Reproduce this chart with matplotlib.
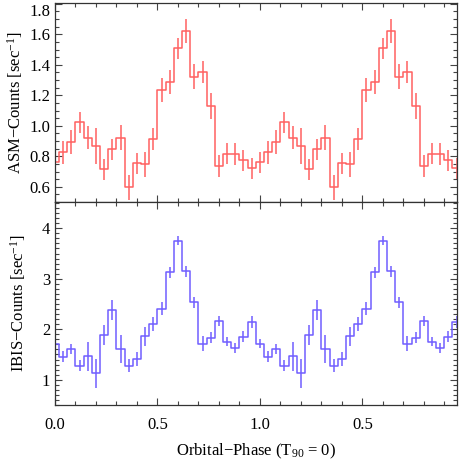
"""
Folded ASM / IBIS light curves, two orbital cycles shown.
"""

import numpy as np
import matplotlib
matplotlib.use("Agg")
import matplotlib.pyplot as plt
from matplotlib.ticker import MultipleLocator, FixedLocator, FixedFormatter

plt.rcParams.update({
    "font.family": "Liberation Serif",
    "font.size": 12,
    "mathtext.fontset": "custom",
    "mathtext.rm": "Liberation Serif",
    "mathtext.it": "Liberation Serif:italic",
})

# ---------------------------------------------------------------------------
# Data (one orbital cycle, 25 phase bins of 0.04)
# ---------------------------------------------------------------------------

asm_rate = [0.76, 0.825, 0.895, 1.022, 0.923, 0.867, 0.714, 0.845, 0.923, 0.596,
            0.753, 0.746, 0.913, 1.234, 1.286, 1.507, 1.621, 1.323, 1.354, 1.129,
            0.736, 0.816, 0.812, 0.773, 0.720]
asm_err = [0.07, 0.077, 0.079, 0.071, 0.077, 0.117, 0.068, 0.071, 0.081, 0.080,
           0.068, 0.082, 0.071, 0.077, 0.079, 0.071, 0.080, 0.079, 0.071, 0.084,
           0.073, 0.068, 0.072, 0.068, 0.069]

ibis_rate = [1.711, 1.456, 1.607, 1.279, 1.462, 1.128, 1.882, 2.374, 1.607, 1.279,
             1.410, 1.862, 2.105, 2.407, 3.128, 3.757, 3.148, 2.531, 1.711, 1.836,
             2.170, 1.757, 1.620, 1.849, 2.138]
ibis_err = [0.09, 0.105, 0.092, 0.115, 0.289, 0.292, 0.203, 0.197, 0.272, 0.131,
            0.141, 0.187, 0.131, 0.125, 0.105, 0.098, 0.108, 0.115, 0.151, 0.115,
            0.102, 0.098, 0.098, 0.108, 0.115]

bin_width = 0.04
n_cycles = 2

phase_ticks = [0.0, 0.5, 1.0, 1.5]
phase_labels = ["0.0", "0.5", "1.0", "0.5"]
asm_ticks = [0.6, 0.8, 1.0, 1.2, 1.4, 1.6, 1.8]
asm_labels = ["0.6", "0.8", "1.0", "1.2", "1.4", "1.6", "1.8"]

RED = (1.0, 0.38, 0.38)
BLUE = (0.44, 0.37, 1.0)


def two_cycles(vals):
    return np.concatenate([np.asarray(vals)] * n_cycles)


def style_axis(ax):
    ax.tick_params(which="both", direction="in", top=True, right=True,
                   colors="#444444", width=0.8)
    ax.tick_params(which="major", length=5)
    ax.tick_params(which="minor", length=2.8)
    ax.tick_params(axis="both", labelcolor="black")
    for s in ax.spines.values():
        s.set_color("#333333")
        s.set_linewidth(0.9)
    ax.set_xlim(0, 1.962)
    ax.xaxis.set_major_locator(FixedLocator(phase_ticks))
    ax.xaxis.set_minor_locator(MultipleLocator(0.1))


def plot_curve(ax, rate, err, color):
    phase = np.arange(len(rate) * n_cycles) * bin_width
    y = two_cycles(rate)
    e = two_cycles(err)
    ax.step(phase, y, where="mid", color=color, lw=1.1)
    ax.errorbar(phase, y, yerr=e, fmt="none", ecolor=color, elinewidth=1.1, capsize=0)


fig = plt.figure(figsize=(4.61, 4.61), dpi=100)
ax1 = fig.add_axes([0.1193, 0.5618, 0.872, 0.4317])
ax2 = fig.add_axes([0.1193, 0.1215, 0.872, 0.4403])

# --- top: ASM ---
plot_curve(ax1, asm_rate, asm_err, RED)
style_axis(ax1)
ax1.set_ylim(0.5, 1.805)
ax1.yaxis.set_major_locator(FixedLocator(asm_ticks))
ax1.yaxis.set_major_formatter(FixedFormatter(asm_labels))
ax1.yaxis.set_minor_locator(MultipleLocator(0.05))
ax1.tick_params(axis="x", labelbottom=False)
ax1.set_ylabel("ASM\u2212Counts [sec$^{-1}$]", labelpad=3)

# --- bottom: IBIS ---
plot_curve(ax2, ibis_rate, ibis_err, BLUE)
style_axis(ax2)
ax2.set_ylim(0.5, 4.52)
ax2.yaxis.set_major_locator(MultipleLocator(1))
ax2.yaxis.set_minor_locator(MultipleLocator(0.1))
ax2.xaxis.set_major_formatter(FixedFormatter(phase_labels))
ax2.tick_params(axis="x", pad=9)
ax2.set_ylabel("IBIS\u2212Counts [sec$^{-1}$]", labelpad=10)
ax2.set_xlabel("Orbital\u2212Phase (T$_{90}$ = 0)", labelpad=6)

fig.align_ylabels([ax1, ax2])

# the top label sits at the figure edge, keep it inside
fig.canvas.draw()
ax1.get_yticklabels()[-1].set_verticalalignment("top")

fig.savefig("out.png", dpi=100)
